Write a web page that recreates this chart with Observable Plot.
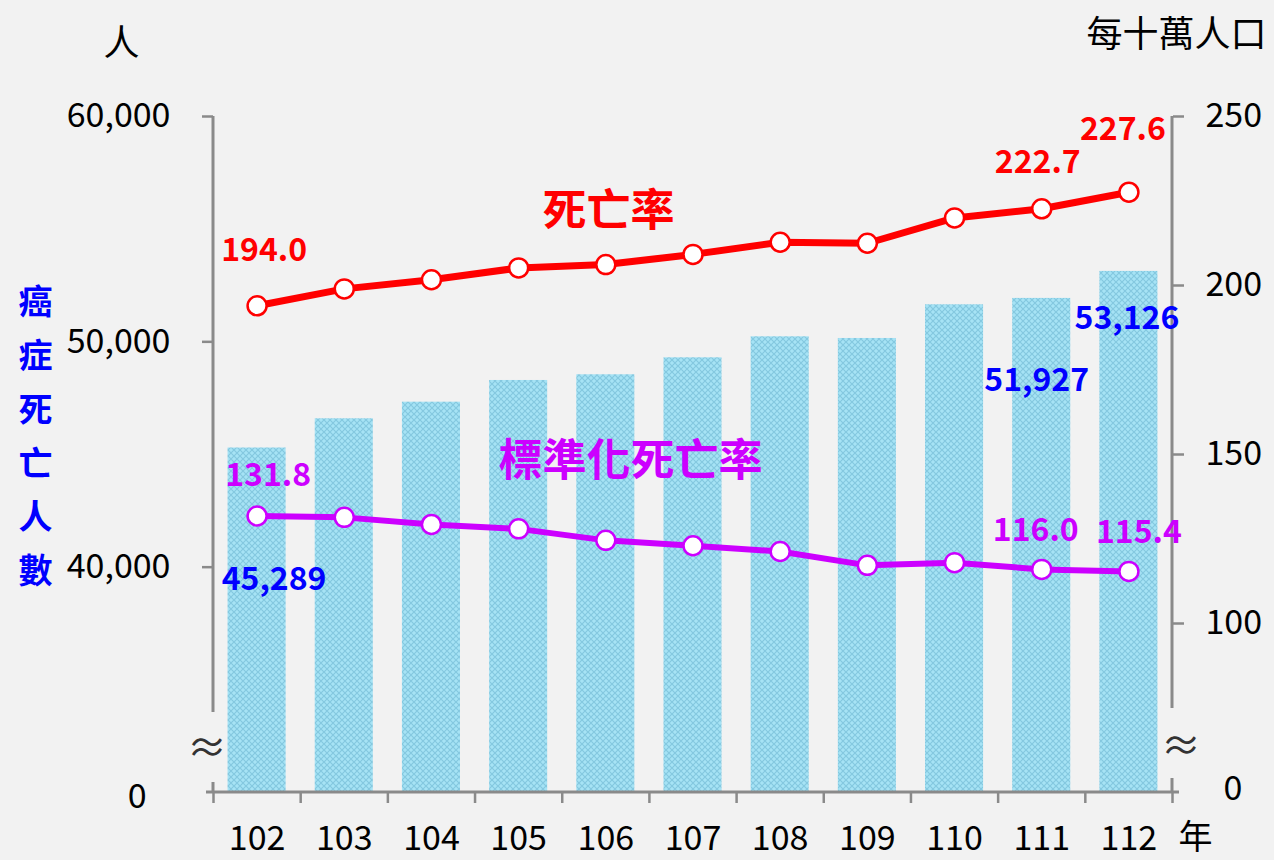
<!DOCTYPE html>
<html>
<head>
<meta charset="utf-8">
<script src="https://cdn.jsdelivr.net/npm/d3@7"></script>
<script src="https://cdn.jsdelivr.net/npm/@observablehq/plot@0.6"></script>
<style>
  html, body { margin: 0; padding: 0; background: #f2f2f2; }
  #chart svg { display: block; }
</style>
</head>
<body>
<div id="chart"></div>
<script>
// ---- data ----
const years = [102, 103, 104, 105, 106, 107, 108, 109, 110, 111, 112];
const deaths = [45289, 46585, 47322, 48285, 48538, 49292, 50224, 50149, 51644, 51927, 53126];
const crudeRate = [194.0, 199.0, 201.7, 205.2, 206.2, 209.2, 212.8, 212.5, 220.0, 222.7, 227.6];
const stdRate = [131.8, 131.4, 129.3, 128.0, 124.6, 123.0, 121.3, 117.2, 118.0, 116.0, 115.4];
const leftTicks = [40000, 50000, 60000];
const rightTicks = [100, 150, 200, 250];
const leftDomain = [30000, 60000];   // bottom shown as "0" (broken axis)
const rightDomain = [50, 250];       // bottom shown as "0" (broken axis)
const crudeLabelIdx = [0, 9, 10];
const stdLabelIdx = [0, 9, 10];
const deathLabelIdx = [0, 9, 10];

// map right-axis values into left-axis units
const k = (leftDomain[1] - leftDomain[0]) / (rightDomain[1] - rightDomain[0]);
const toLeft = v => leftDomain[0] + (v - rightDomain[0]) * k;
const fromLeft = v => rightDomain[0] + (v - leftDomain[0]) / k;

const data = years.map((y, i) => ({year: y, deaths: deaths[i], crude: crudeRate[i], std: stdRate[i], i}));
const edges = years.map(y => y - 0.5).concat([years[years.length - 1] + 0.5]);

const RED = "#ff0000", PURPLE = "#cc00ff", BLUE = "#0000ff", AXIS = "#8a8a8a";
const FONT = "'Noto Sans CJK TC', 'Noto Sans', sans-serif";
const TICKFS = 34;

function breaks(index, scales, values, dims) {
  const g = d3.create("svg:g");
  const L = dims.marginLeft, R = dims.width - dims.marginRight;
  const T = dims.marginTop, B = dims.height - dims.marginBottom;
  const seg = (x, y1, y2) => g.append("line").attr("x1", x).attr("x2", x).attr("y1", y1).attr("y2", y2)
      .attr("stroke", AXIS).attr("stroke-width", 3);
  seg(L, T, B - 80); seg(L, B - 10, B);
  seg(R, T, B - 84); seg(R, B - 14, B);
  g.append("line").attr("x1", L - 7).attr("x2", R + 7).attr("y1", B).attr("y2", B)
    .attr("stroke", AXIS).attr("stroke-width", 3);
  const t = (x, y, s) => g.append("text").attr("x", x).attr("y", y).attr("text-anchor", "middle")
      .attr("dominant-baseline", "central").attr("font-size", 40).attr("fill", "#333").text(s);
  t(L - 6, B - 47, "≈");
  t(R + 9, B - 49, "≈");
  return g.node();
}

const labelMark = (idx, yFn, text, fill, dx, dy) => Plot.text(data.filter(d => d.i === idx), {
  x: "year", y: yFn, text, fill, dx, dy, fontSize: 32, fontWeight: "bold"
});

const free = (s, anchor, dx, dy, fill, fontSize, extra = {}) => Plot.text([s], {
  frameAnchor: anchor, dx, dy, fill, fontSize, textAnchor: "middle", lineAnchor: "middle", ...extra
});

const plot = Plot.plot({
  width: 1274,
  height: 860,
  marginLeft: 213,
  marginRight: 102,
  marginTop: 116,
  marginBottom: 68,
  x: {type: "linear", domain: [edges[0], edges[edges.length - 1]], axis: null},
  y: {domain: leftDomain, axis: null},
  style: {fontFamily: FONT, fontSize: TICKFS + "px", background: "#f2f2f2", color: "#000", overflow: "visible"},
  marks: [
    Plot.rect(data, {x1: d => d.year - 0.333, x2: d => d.year + 0.333, y1: leftDomain[0], y2: "deaths", fill: "url(#hatch)"}),
    breaks,
    // left axis
    Plot.axisY({anchor: "left", label: null, ticks: leftTicks, tickFormat: d3.format(","), tickSize: 11, tickPadding: 32,
      stroke: AXIS, strokeWidth: 2.5, fill: "#000", fontSize: TICKFS}),
    Plot.axisY({anchor: "left", label: null, ticks: [leftDomain[0]], tickFormat: () => "0", tickSize: 0, tickPadding: 67, dy: 5,
      fill: "#000", fontSize: TICKFS}),
    // right axis
    Plot.axisY({anchor: "right", label: null, ticks: rightTicks.map(toLeft), tickFormat: d => String(Math.round(fromLeft(d))),
      tickSize: 11, tickPadding: 22, stroke: AXIS, strokeWidth: 2.5, fill: "#000", fontSize: TICKFS}),
    Plot.axisY({anchor: "right", label: null, ticks: [leftDomain[0]], tickFormat: () => "0", tickSize: 0, tickPadding: 51, dy: -3,
      fill: "#000", fontSize: TICKFS}),
    // x axis
    Plot.axisX({label: null, ticks: edges, tickFormat: () => "", tickSize: 11, stroke: AXIS, strokeWidth: 2.5}),
    Plot.axisX({label: null, ticks: years, tickFormat: d => String(d), tickSize: 0, tickPadding: 33, fill: "#000", fontSize: TICKFS}),
    // lines
    Plot.line(data, {x: "year", y: d => toLeft(d.crude), stroke: RED, strokeWidth: 7}),
    Plot.dot(data, {x: "year", y: d => toLeft(d.crude), r: 9.5, fill: "white", stroke: RED, strokeWidth: 2.5}),
    Plot.line(data, {x: "year", y: d => toLeft(d.std), stroke: PURPLE, strokeWidth: 6}),
    Plot.dot(data, {x: "year", y: d => toLeft(d.std), r: 9.5, fill: "white", stroke: PURPLE, strokeWidth: 2.5}),
    // value labels
    labelMark(crudeLabelIdx[0], d => toLeft(d.crude), d => d.crude.toFixed(1), RED, 7, -55),
    labelMark(crudeLabelIdx[1], d => toLeft(d.crude), d => d.crude.toFixed(1), RED, -4, -46),
    labelMark(crudeLabelIdx[2], d => toLeft(d.crude), d => d.crude.toFixed(1), RED, -6, -62),
    labelMark(stdLabelIdx[0], d => toLeft(d.std), d => d.std.toFixed(1), PURPLE, 11, -40),
    labelMark(stdLabelIdx[1], d => toLeft(d.std), d => d.std.toFixed(1), PURPLE, -6, -39),
    labelMark(stdLabelIdx[2], d => toLeft(d.std), d => d.std.toFixed(1), PURPLE, 10, -39),
    labelMark(deathLabelIdx[0], "deaths", d => d3.format(",")(d.deaths), BLUE, 17, 132),
    labelMark(deathLabelIdx[1], "deaths", d => d3.format(",")(d.deaths), BLUE, -5, 82),
    labelMark(deathLabelIdx[2], "deaths", d => d3.format(",")(d.deaths), BLUE, -2, 47),
    // series names
    free("死亡率", "top-left", 395, 95, RED, 44, {fontWeight: "bold"}),
    free("標準化死亡率", "top-left", 417, 345, PURPLE, 44, {fontWeight: "bold"}),
    // axis titles
    free("癌\n症\n死\n亡\n人\n數", "left", -178, -23, BLUE, 34, {fontWeight: "bold", lineHeight: 1.58}),
    free("人", "top-left", -92, -72, "#000", 36),
    free("每十萬人口", "top-right", 4, -81, "#000", 36),
    free("年", "bottom-right", 23, 46, "#000", 34)
  ]
});

d3.select(plot).insert("defs", ":first-child").html(
  `<pattern id="hatch" width="6" height="6" patternUnits="userSpaceOnUse">
     <rect width="6" height="6" fill="#a6e3f5"/>
     <path d="M0,0L6,6M6,0L0,6" stroke="#84c8e0" stroke-width="1.2"/>
   </pattern>`);

document.getElementById("chart").appendChild(plot);
</script>
</body>
</html>
